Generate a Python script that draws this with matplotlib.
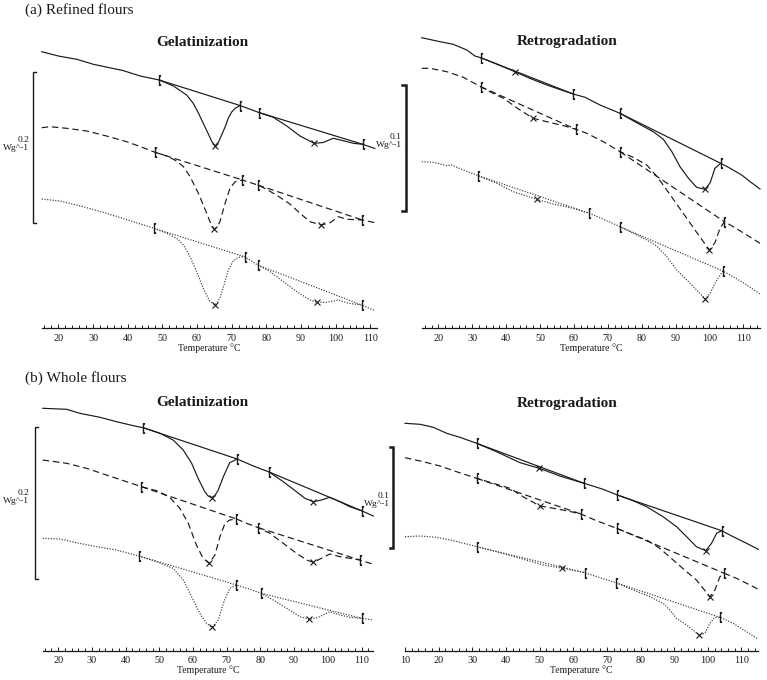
import numpy as np
import matplotlib
matplotlib.use("Agg")
import matplotlib.pyplot as plt
from matplotlib.path import Path

plt.rcParams['font.family'] = ['Liberation Serif', 'DejaVu Serif']

# ---------------- data (temperature in degC, heat flow in a.u., endo down) ----------------
# (a) Refined flours - Gelatinization
ref_gel_solid_T = [15.2, 20.0, 25.3, 30.1, 38.8, 43.6, 49.1, 53.2, 57.0, 58.9, 60.4, 61.8, 63.0, 64.2, 65.2,
                   66.2, 67.1, 68.1, 69.0, 70.0, 71.0, 72.4, 78.0, 82.0, 85.9, 89.7, 93.8, 96.4, 99.3, 102.2,
                   105.1, 107.8, 111.3]
ref_gel_solid_hf = [-51.7, -56.0, -59.3, -64.3, -70.7, -76.0, -80.0, -86.0, -95.0, -103.3, -113.0, -123.3, -132.0,
                    -141.0, -146.0, -142.0, -135.0, -127.0, -118.3, -112.0, -108.3, -105.5, -112.7, -117.3, -126.0,
                    -136.0, -143.3, -142.5, -138.3, -140.7, -143.3, -144.3, -148.5]
ref_gel_solid_lim = [49.1, 72.4, 78.0, 107.8]
ref_gel_solid_pk = [65.2, 93.8]

ref_gel_dash_T = [15.2, 17.6, 22.4, 28.2, 33.9, 39.7, 44.5, 47.9, 51.3, 54.1, 56.1, 58.0, 60.4, 62.8, 64.0, 65.0,
                  65.8, 66.6, 68.1, 69.5, 71.0, 73.1, 77.5, 80.1, 83.9, 86.8, 89.7, 92.6, 95.8, 98.4, 100.8,
                  103.2, 107.7, 111.3]
ref_gel_dash_hf = [-127.7, -126.7, -128.3, -131.0, -136.0, -141.7, -147.7, -152.3, -156.0, -161.0, -166.7, -176.7,
                   -193.3, -213.3, -224.0, -229.3, -227.0, -221.7, -203.3, -188.3, -181.7, -180.0, -185.0, -189.3,
                   -197.3, -204.0, -213.3, -221.7, -225.0, -222.7, -216.7, -219.3, -220.0, -222.7]
ref_gel_dash_lim = [47.9, 73.1, 77.5, 107.7]
ref_gel_dash_pk = [65.0, 95.8]

ref_gel_dot_T = [15.2, 20.5, 27.2, 33.9, 41.6, 47.6, 51.3, 54.1, 56.1, 58.0, 59.9, 61.8, 63.6, 65.2, 66.6, 67.8,
                 69.0, 70.5, 71.9, 73.7, 77.5, 81.1, 84.9, 88.8, 92.6, 94.5, 97.4, 100.8, 103.7, 107.5, 111.3]
ref_gel_dot_hf = [-199.0, -201.0, -206.7, -213.3, -221.7, -228.3, -233.3, -238.3, -245.0, -256.7, -271.7, -288.3,
                  -301.0, -305.0, -298.3, -285.0, -270.0, -260.7, -257.3, -256.7, -265.0, -271.7, -281.7, -291.7,
                  -300.0, -302.3, -302.3, -300.0, -303.3, -305.0, -310.7]
ref_gel_dot_lim = [47.6, 73.7, 77.5, 107.5]
ref_gel_dot_pk = [65.2, 94.5]

# (a) Refined flours - Retrogradation
ref_ret_solid_T = [15.1, 20.5, 24.4, 28.4, 30.8, 32.5, 37.2, 42.6, 47.0, 52.0, 56.9, 59.8, 63.3, 67.7, 73.6, 78.5,
                   83.4, 86.4, 88.9, 91.3, 93.8, 96.2, 98.7, 100.2, 101.6, 103.3, 106.1, 109.5, 112.0, 114.9]
ref_ret_solid_hf = [-37.7, -41.7, -44.3, -50.0, -56.0, -57.7, -64.0, -71.7, -78.3, -85.0, -90.7, -94.0, -97.3,
                    -105.0, -113.3, -122.7, -131.7, -139.3, -151.7, -166.7, -178.3, -187.3, -189.3, -182.7, -168.3,
                    -163.3, -168.3, -175.0, -181.7, -189.0]
ref_ret_solid_lim = [32.5, 59.8, 73.6, 103.3]
ref_ret_solid_pk = [42.6, 98.7]

ref_ret_dash_T = [15.1, 17.5, 22.5, 27.4, 32.5, 35.2, 39.2, 44.1, 48.0, 52.0, 56.9, 60.6, 63.8, 68.7, 73.6, 77.5,
                  81.5, 84.4, 87.4, 90.3, 93.3, 96.2, 98.2, 100.0, 101.6, 103.1, 104.4, 107.0, 111.0, 114.9]
ref_ret_dash_hf = [-68.3, -68.3, -71.7, -77.3, -86.7, -91.7, -98.3, -110.0, -118.3, -121.7, -125.7, -129.3, -133.3,
                   -141.7, -151.7, -157.3, -165.0, -176.0, -190.0, -204.0, -218.3, -232.3, -241.7, -250.0, -242.7,
                   -228.3, -221.7, -226.7, -235.0, -243.3]
ref_ret_dash_lim = [32.5, 60.6, 73.6, 104.4]
ref_ret_dash_pk = [48.0, 100.0]

ref_ret_dot_T = [15.1, 18.5, 22.5, 23.9, 27.4, 31.8, 37.2, 42.1, 49.0, 53.9, 59.8, 64.6, 69.7, 73.6, 77.5, 81.5,
                 84.4, 87.4, 90.3, 93.3, 96.2, 98.7, 100.2, 101.6, 103.9, 107.0, 111.0, 114.9]
ref_ret_dot_hf = [-161.7, -162.3, -165.7, -165.0, -170.0, -175.7, -183.3, -191.7, -199.3, -204.0, -208.3, -213.3,
                  -220.7, -226.7, -233.3, -240.0, -246.0, -256.7, -270.0, -280.0, -290.0, -299.0, -293.3, -283.3,
                  -271.0, -276.7, -285.0, -294.0]
ref_ret_dot_lim = [31.8, 64.6, 73.6, 103.9]
ref_ret_dot_pk = [49.0, 98.7]

# (b) Whole flours - Gelatinization
who_gel_solid_T = [15.4, 22.5, 26.4, 32.4, 37.3, 42.3, 45.2, 50.2, 54.1, 57.1, 59.6, 61.5, 63.5, 64.5, 65.5, 66.5,
                   67.5, 69.0, 70.9, 73.1, 77.9, 82.6, 86.8, 90.7, 93.2, 95.7, 98.1, 100.6, 103.6, 106.5, 110.0,
                   113.5]
who_gel_solid_hf = [-28.3, -29.3, -33.3, -37.3, -41.7, -45.7, -47.7, -53.3, -60.0, -70.0, -83.3, -98.3, -111.7,
                    -116.0, -117.7, -115.5, -110.0, -96.7, -82.7, -79.0, -86.0, -92.0, -101.7, -111.7, -118.3,
                    -121.7, -120.0, -117.3, -121.7, -126.7, -130.7, -136.0]
who_gel_solid_lim = [45.2, 73.1, 82.6, 110.0]
who_gel_solid_pk = [65.5, 95.7]

who_gel_dash_T = [15.4, 22.5, 28.4, 34.3, 40.3, 44.7, 49.2, 53.1, 56.1, 58.6, 61.0, 63.0, 64.8, 66.5, 68.0, 69.5,
                  70.9, 72.9, 75.9, 79.4, 82.8, 86.8, 90.7, 93.7, 95.7, 98.1, 100.6, 103.6, 106.5, 109.5, 113.5]
who_gel_dash_hf = [-80.0, -83.3, -88.3, -95.0, -101.7, -106.7, -110.7, -117.3, -128.3, -143.3, -165.0, -178.3,
                   -183.3, -175.0, -156.7, -143.3, -140.0, -139.0, -143.3, -147.7, -153.3, -163.3, -173.3, -180.0,
                   -182.3, -178.3, -174.0, -176.7, -178.3, -180.0, -184.3]
who_gel_dash_lim = [44.7, 72.9, 79.4, 109.5]
who_gel_dash_pk = [64.8, 95.7]

who_gel_dot_T = [15.4, 20.5, 25.4, 31.4, 37.3, 44.0, 49.2, 54.1, 57.1, 59.6, 62.0, 64.0, 65.7, 67.5, 69.0, 70.9,
                 72.9, 76.9, 80.3, 83.8, 87.8, 91.7, 94.5, 97.2, 100.6, 103.6, 106.5, 110.0, 113.5]
who_gel_dot_hf = [-158.3, -159.0, -162.7, -166.7, -170.0, -176.0, -181.7, -188.3, -200.0, -216.7, -233.3, -243.3,
                  -247.3, -240.0, -223.3, -208.3, -205.0, -209.3, -213.3, -220.0, -228.3, -236.7, -239.3, -237.3,
                  -231.7, -235.0, -237.3, -238.3, -240.0]
who_gel_dot_lim = [44.0, 72.9, 80.3, 110.0]
who_gel_dot_pk = [65.7, 94.5]

# (b) Whole flours - Retrogradation
who_ret_solid_T = [10.0, 14.5, 18.4, 22.4, 26.3, 31.3, 37.2, 44.2, 49.9, 56.0, 63.2, 68.9, 73.1, 77.8, 81.8, 86.7,
                   90.7, 93.7, 96.6, 99.4, 101.1, 102.6, 104.1, 107.5, 111.5, 115.0]
who_ret_solid_hf = [-43.3, -44.3, -47.3, -53.3, -57.3, -63.3, -71.7, -82.7, -88.3, -96.0, -103.3, -109.3, -115.0,
                    -120.7, -126.7, -136.7, -146.7, -156.7, -166.7, -170.7, -163.3, -153.3, -150.7, -156.7, -163.3,
                    -169.3]
who_ret_solid_lim = [31.3, 63.2, 73.1, 104.1]
who_ret_solid_pk = [49.9, 99.4]

who_ret_dash_T = [10.0, 15.4, 20.4, 25.3, 31.3, 36.2, 41.2, 45.1, 50.1, 54.1, 58.0, 62.3, 66.9, 72.9, 77.8, 81.8,
                  85.7, 89.7, 93.7, 96.6, 100.6, 102.1, 103.6, 104.9, 108.5, 111.5, 115.0]
who_ret_dash_hf = [-77.7, -81.7, -86.0, -91.7, -98.3, -103.3, -108.3, -116.7, -126.0, -128.3, -130.7, -134.0,
                   -140.7, -148.3, -155.0, -160.0, -168.3, -180.0, -191.7, -200.0, -216.7, -210.0, -196.7, -193.3,
                   -198.3, -203.3, -209.3]
who_ret_dash_lim = [31.3, 62.3, 72.9, 104.9]
who_ret_dash_pk = [50.1, 100.6]

who_ret_dot_T = [10.0, 14.5, 19.4, 24.4, 28.3, 31.3, 37.2, 44.2, 51.1, 56.8, 63.5, 67.9, 72.7, 77.8, 82.8, 86.7,
                 88.7, 90.7, 93.7, 97.4, 99.1, 100.6, 102.1, 103.6, 107.5, 111.5, 115.0]
who_ret_dot_hf = [-156.7, -156.0, -157.3, -160.7, -164.0, -166.7, -171.7, -178.3, -185.0, -188.3, -192.7, -197.7,
                  -202.7, -210.0, -216.7, -223.3, -230.0, -238.3, -245.0, -255.0, -253.3, -243.3, -237.3, -237.3,
                  -243.3, -251.7, -259.3]
who_ret_dot_lim = [31.3, 63.5, 72.7, 103.6]
who_ret_dot_pk = [56.8, 97.4]

# scale bar labels
gel_scale_label = "0.2\nWg^-1"
ret_scale_label = "0.1\nWg^-1"

# ---------------- drawing ----------------
W, H = 767, 680
INK = '#1a1a1a'
LW = 0.85
STYLES = {'solid': ('-', INK, 0.85), 'dash': ((0, (5.5, 3.2)), INK, 0.85), 'dot': ((0, (1.0, 1.3)), '#3a3a3a', 0.85)}

fig = plt.figure(figsize=(W / 100, H / 100), dpi=100)

LIM_MARK = Path([(0, -1), (0, 1), (0, 1), (0.3, 0.8), (0, -1), (0.3, -0.8)],
                [Path.MOVETO, Path.LINETO, Path.MOVETO, Path.LINETO, Path.MOVETO, Path.LINETO])


def ftxt(x, y, s, **kw):
    fig.text(x / W, 1 - y / H, s, color=INK, **kw)


def add_panel(box, xlim, ylim, major_start):
    l, r, t, b = box
    ax = fig.add_axes([l / W, 1 - b / H, (r - l) / W, (b - t) / H])
    ax.set_xlim(*xlim)
    ax.set_ylim(*ylim)
    ax.patch.set_alpha(0)
    for s in ('left', 'right', 'top'):
        ax.spines[s].set_visible(False)
    ax.spines['bottom'].set_linewidth(0.9)
    ax.spines['bottom'].set_color(INK)
    ax.set_yticks([])
    ax.set_xticks(np.arange(major_start, 111, 10))
    ax.set_xticks(np.arange(major_start if major_start == 10 else 16, xlim[1] + 0.01, 2), minor=True)
    ax.tick_params(axis='x', which='both', direction='in', colors=INK, labelsize=7.3, pad=4.0, width=0.7)
    ax.tick_params(axis='x', which='major', length=3.0)
    ax.tick_params(axis='x', which='minor', length=2.4)
    ax.set_xlabel('Temperature °C', fontsize=7.0, labelpad=0.0, color=INK)
    return ax


def draw_curve(ax, T, hf, style, lim, pk):
    ls, col, lw = STYLES[style]
    T = np.asarray(T, float)
    hf = np.asarray(hf, float)
    ax.plot(T, hf, color=col, lw=lw, ls=ls, clip_on=False)
    for a, b in ((lim[0], lim[1]), (lim[2], lim[3])):
        ax.plot([a, b], np.interp([a, b], T, hf), color=col, lw=lw, ls=ls, clip_on=False)
    ax.plot(lim, np.interp(lim, T, hf), ls='none', marker=LIM_MARK, ms=7.5, mec=INK, mfc='none',
            mew=1.0, clip_on=False)
    ax.plot(pk, np.interp(pk, T, hf), ls='none', marker='x', ms=4.2, mec=INK, mew=0.8, clip_on=False)


def scale_bar(ax, x, x_serif, y0, y1, lw):
    ax.plot([x_serif, x, x, x_serif], [y0, y0, y1, y1], color=INK, lw=lw, clip_on=False,
            solid_joinstyle='miter')


# panel a - gelatinization
ax = add_panel((41.7, 376.6, 40, 328.3), (15.2, 111.8), (-328.3, -40), 20)
draw_curve(ax, ref_gel_solid_T, ref_gel_solid_hf, 'solid', ref_gel_solid_lim, ref_gel_solid_pk)
draw_curve(ax, ref_gel_dash_T, ref_gel_dash_hf, 'dash', ref_gel_dash_lim, ref_gel_dash_pk)
draw_curve(ax, ref_gel_dot_T, ref_gel_dot_hf, 'dot', ref_gel_dot_lim, ref_gel_dot_pk)
scale_bar(ax, 12.7, 13.7, -71.7, -222.7, 1.0)

# panel a - retrogradation
ax = add_panel((421.7, 760.0, 40, 328.3), (15.1, 114.9), (-328.3, -40), 20)
draw_curve(ax, ref_ret_solid_T, ref_ret_solid_hf, 'solid', ref_ret_solid_lim, ref_ret_solid_pk)
draw_curve(ax, ref_ret_dash_T, ref_ret_dash_hf, 'dash', ref_ret_dash_lim, ref_ret_dash_pk)
draw_curve(ax, ref_ret_dot_T, ref_ret_dot_hf, 'dot', ref_ret_dot_lim, ref_ret_dot_pk)
scale_bar(ax, 10.5, 9.4, -85.0, -211.0, 1.8)

# panel b - gelatinization
ax = add_panel((42.7, 373.3, 395, 650.7), (15.4, 113.5), (-270.7, -15), 20)
draw_curve(ax, who_gel_solid_T, who_gel_solid_hf, 'solid', who_gel_solid_lim, who_gel_solid_pk)
draw_curve(ax, who_gel_dash_T, who_gel_dash_hf, 'dash', who_gel_dash_lim, who_gel_dash_pk)
draw_curve(ax, who_gel_dot_T, who_gel_dot_hf, 'dot', who_gel_dot_lim, who_gel_dot_pk)
scale_bar(ax, 13.1, 14.1, -46.7, -199.0, 1.0)

# panel b - retrogradation
ax = add_panel((405.0, 758.3, 395, 650.7), (10.0, 115.0), (-270.7, -15), 10)
draw_curve(ax, who_ret_solid_T, who_ret_solid_hf, 'solid', who_ret_solid_lim, who_ret_solid_pk)
draw_curve(ax, who_ret_dash_T, who_ret_dash_hf, 'dash', who_ret_dash_lim, who_ret_dash_pk)
draw_curve(ax, who_ret_dot_T, who_ret_dot_hf, 'dot', who_ret_dot_lim, who_ret_dot_pk)
scale_bar(ax, 6.5, 5.4, -66.7, -168.3, 1.8)

# texts
ftxt(25, 10, '(a) Refined flours', fontsize=11, ha='left', va='center')
ftxt(25, 378, '(b) Whole flours', fontsize=11, ha='left', va='center')
ftxt(202, 42, 'Gelatinization', fontsize=11, fontweight='bold', ha='center', va='center')
ftxt(567, 42, 'Retrogradation', fontsize=11, fontweight='bold', ha='center', va='center')
ftxt(202, 403, 'Gelatinization', fontsize=11, fontweight='bold', ha='center', va='center')
ftxt(567, 403, 'Retrogradation', fontsize=11, fontweight='bold', ha='center', va='center')
ftxt(29, 144, gel_scale_label, fontsize=6.8, ha='right', va='center', multialignment='right', linespacing=1.1)
ftxt(402, 141, ret_scale_label, fontsize=6.8, ha='right', va='center', multialignment='right', linespacing=1.1)
ftxt(29, 497, gel_scale_label, fontsize=6.8, ha='right', va='center', multialignment='right', linespacing=1.1)
ftxt(390, 500, ret_scale_label, fontsize=6.8, ha='right', va='center', multialignment='right', linespacing=1.1)

fig.savefig('out.png', dpi=100)
